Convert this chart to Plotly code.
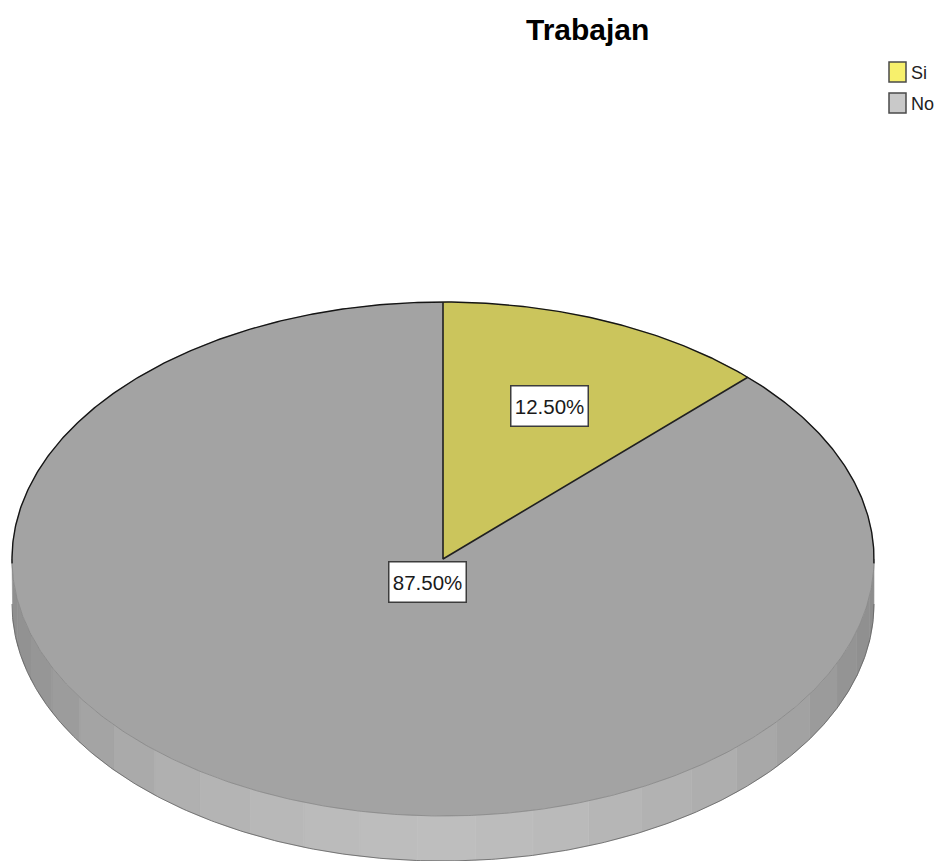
import numpy as np
import plotly.graph_objects as go

title = "Trabajan"
categories = ["Si", "No"]
percent_values = [12.5, 87.5]
slice_colors = ["#cbc55c", "#a3a3a3"]
legend_colors = ["#f7f06c", "#c9c9c9"]
# shades of the rim, one per band going clockwise from the right edge
rim_shades = ["#8d8d8d", "#909090", "#949494", "#9b9b9b", "#a2a2a2", "#a8a8a8",
              "#aeaeae", "#b2b2b2", "#b6b6b6", "#bababa", "#bcbcbc", "#bebebe",
              "#bdbdbd", "#bbbbbb", "#b8b8b8", "#b4b4b4", "#b0b0b0", "#aaaaaa",
              "#a4a4a4", "#9c9c9c", "#969696", "#929292", "#8f8f8f", "#8d8d8d"]

CX, CY, RX, RY, DEPTH = 443, 559, 431, 257, 45
FONT = "Liberation Sans, Arial"


def ellipse(t_deg):
    t = np.radians(t_deg)
    return CX + RX * np.cos(t), CY - RY * np.sin(t)


fig = go.Figure()

# rim bands
edges = [0.0, 8.5] + [16.2 + 7.72 * k for k in range(21)] + [180.0]
edges = sorted(e for e in edges if e <= 180)
for i in range(len(edges) - 1):
    phi = np.linspace(edges[i], edges[i + 1], 12)
    xs, ys = ellipse(-phi)
    fig.add_trace(go.Scatter(
        x=np.r_[xs, xs[::-1], xs[0]], y=np.r_[ys, ys[::-1] + DEPTH, ys[0]],
        mode="lines", fill="toself", fillcolor=rim_shades[min(i, len(rim_shades) - 1)],
        line=dict(width=0.6, color=rim_shades[min(i, len(rim_shades) - 1)]),
        hoverinfo="skip", showlegend=False))

phi = np.linspace(0, 180, 361)
xs, ys = ellipse(-phi)
fig.add_trace(go.Scatter(x=xs, y=ys + DEPTH, mode="lines",
                         line=dict(color="#606060", width=0.8),
                         hoverinfo="skip", showlegend=False))

# top slices, clockwise from twelve o'clock
start = 90.0
for cat, val, col in zip(categories, percent_values, slice_colors):
    sweep = val / sum(percent_values) * 360
    t = np.linspace(start, start - sweep, 500)
    xs, ys = ellipse(t)
    fig.add_trace(go.Scatter(
        x=np.r_[CX, xs, CX], y=np.r_[CY, ys, CY], mode="lines", fill="toself",
        fillcolor=col, line=dict(width=0.5, color=col), name=cat,
        hoverinfo="name", showlegend=False))
    start -= sweep

# outlines
t = np.linspace(-1, 181, 400)
xs, ys = ellipse(t)
fig.add_trace(go.Scatter(x=xs, y=ys, mode="lines", line=dict(color="#151515", width=1.4),
                         hoverinfo="skip", showlegend=False))
t = np.linspace(181, 359, 400)
xs, ys = ellipse(t)
fig.add_trace(go.Scatter(x=xs, y=ys, mode="lines", line=dict(color="#7c7c7c", width=0.6),
                         hoverinfo="skip", showlegend=False))
bx, by = ellipse(90 - percent_values[0] / sum(percent_values) * 360)
tx, ty = ellipse(90)
fig.add_trace(go.Scatter(x=[tx, CX, bx], y=[ty, CY, by], mode="lines",
                         line=dict(color="#202020", width=1.6),
                         hoverinfo="skip", showlegend=False))

annotations = [
    dict(x=587, y=29, text=f"<b>{title}</b>", showarrow=False,
         font=dict(family=FONT, size=30, color="#000000")),
]
label_centers = [(549.5, 406), (427.5, 581.5)]
for (lx, ly), val in zip(label_centers, percent_values):
    annotations.append(dict(
        x=lx, y=ly, text=f"{val:.2f}%", showarrow=False, width=76, height=39,
        bgcolor="#ffffff", bordercolor="#3c3c3c", borderwidth=1.5, borderpad=0,
        font=dict(family=FONT, size=20.5, color="#1a1a1a")))

shapes = []
for i, (cat, col) in enumerate(zip(categories, legend_colors)):
    y0 = 62 + i * 31
    shapes.append(dict(type="rect", x0=889, x1=906, y0=y0, y1=y0 + 20, fillcolor=col,
                       line=dict(color="#4a4a4a", width=1.5)))
    annotations.append(dict(x=909, y=y0 + 11, text=cat, showarrow=False, xanchor="left",
                            font=dict(family=FONT, size=18, color="#222222")))

fig.update_layout(
    width=939, height=861, autosize=False, margin=dict(l=0, r=0, t=0, b=0),
    paper_bgcolor="#ffffff", plot_bgcolor="#ffffff", showlegend=False,
    xaxis=dict(range=[0, 939], visible=False, fixedrange=True),
    yaxis=dict(range=[861, 0], visible=False, fixedrange=True),
    annotations=annotations, shapes=shapes,
)
fig.write_html("out.html", config=dict(displayModeBar=False),
               post_script="document.body.style.margin='0';document.body.style.overflow='hidden';")
